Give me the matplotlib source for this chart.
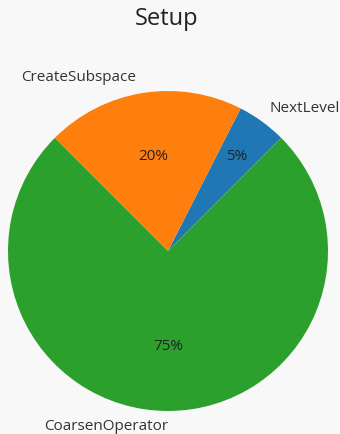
import matplotlib
matplotlib.use("Agg")
import numpy as np
import matplotlib.pyplot as plt

labels = ["NextLevel", "CreateSubspace", "CoarsenOperator"]
shares = [5, 20, 75]
colors = ["#1f77b4", "#ff7f0e", "#2ca02c"]

plt.rcParams["font.family"] = ["Open Sans", "DejaVu Sans"]

fig = plt.figure(figsize=(3.4, 4.34), dpi=100, facecolor="#f8f8f8")
ax = fig.add_axes([8 / 340, 1 - 411 / 434, 320 / 340, 320 / 434])
ax.set_facecolor("#f8f8f8")

wedges, texts, autotexts = ax.pie(
    shares,
    labels=labels,
    colors=colors,
    startangle=45,
    autopct="%1.0f%%",
    textprops={"fontsize": 11, "color": "#333333"},
)
for t in autotexts:
    t.set_color("#222222")

# the thin slice gets its percentage pushed further out
w = wedges[0]
mid = np.deg2rad((w.theta1 + w.theta2) / 2)
autotexts[0].set_position((0.73 * np.cos(mid), 0.73 * np.sin(mid)))

# bottom label sits centred under the pie, ending at its axis
texts[2].set_ha("right")
x, y = texts[1].get_position()
texts[1].set_position((x - 0.03, y))
x, y = texts[0].get_position()
texts[0].set_position((x - 0.015, y))

ax.set_xlim(-1, 1)
ax.set_ylim(-1, 1)
ax.set_aspect("equal")
ax.set_axis_off()

fig.text(0.49, 1 - 19 / 434, "Setup", ha="center", va="center",
         fontsize=17, color="#222222")

fig.savefig("out.png", dpi=100, facecolor=fig.get_facecolor())
